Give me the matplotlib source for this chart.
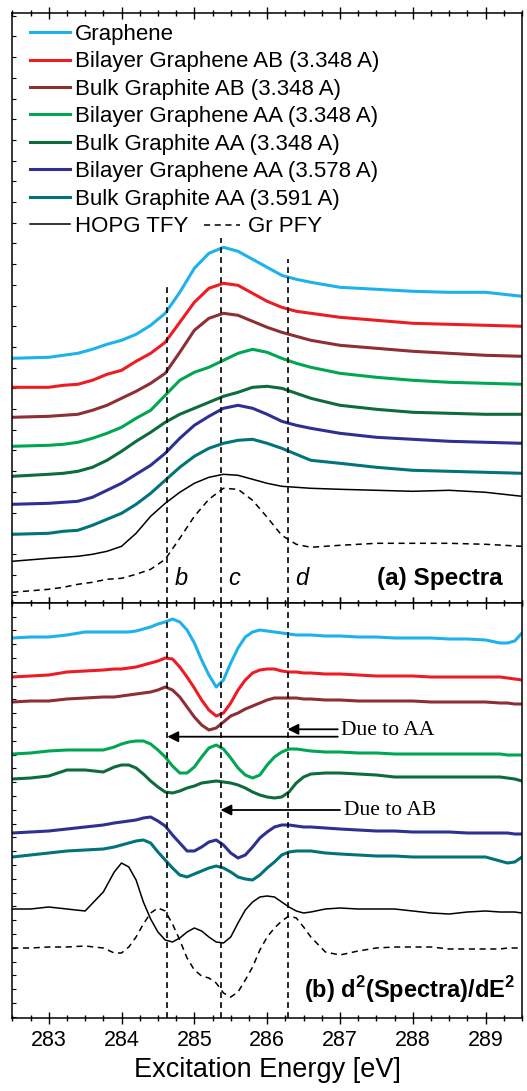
import numpy as np
import matplotlib.pyplot as plt
from matplotlib.ticker import MultipleLocator

plt.rcParams['font.family'] = ['Liberation Sans', 'DejaVu Sans']
plt.rcParams['mathtext.fontset'] = 'custom'
plt.rcParams['mathtext.rm'] = 'Liberation Sans'
plt.rcParams['mathtext.bf'] = 'Liberation Sans:bold'

# Panel (a): spectra (stacked, arbitrary units)
energia_a = [282.5, 283.0, 283.2, 283.4, 283.6, 283.8, 284.0, 284.2, 284.4, 284.6, 284.8, 285.0, 285.2,
             285.4, 285.6, 285.8, 286.0, 286.2, 286.4, 286.6, 287.0, 287.5, 288.0, 288.5, 289.0, 289.5]

graphene_a = [2.45, 2.46, 2.48, 2.50, 2.54, 2.59, 2.63, 2.69, 2.78, 2.90, 3.11, 3.35, 3.50,
              3.56, 3.52, 3.44, 3.36, 3.28, 3.24, 3.21, 3.16, 3.14, 3.12, 3.11, 3.11, 3.07]
bilayer_ab_a = [2.16, 2.16, 2.18, 2.19, 2.23, 2.29, 2.33, 2.42, 2.50, 2.61, 2.81, 3.01, 3.15,
                3.20, 3.18, 3.10, 3.02, 2.96, 2.92, 2.90, 2.86, 2.83, 2.80, 2.79, 2.78, 2.77]
bulk_ab_a = [1.86, 1.87, 1.88, 1.89, 1.93, 1.98, 2.05, 2.12, 2.20, 2.30, 2.51, 2.73, 2.85,
             2.90, 2.88, 2.82, 2.76, 2.71, 2.67, 2.63, 2.58, 2.55, 2.52, 2.50, 2.48, 2.47]
bilayer_aa_a = [1.57, 1.58, 1.59, 1.61, 1.65, 1.70, 1.76, 1.85, 1.93, 2.08, 2.23, 2.31, 2.36,
                2.43, 2.50, 2.54, 2.51, 2.45, 2.40, 2.36, 2.30, 2.26, 2.23, 2.21, 2.20, 2.19]
bulk_aa_a = [1.27, 1.29, 1.30, 1.32, 1.36, 1.43, 1.52, 1.62, 1.71, 1.81, 1.89, 1.95, 2.01,
             2.07, 2.11, 2.16, 2.17, 2.15, 2.10, 2.05, 1.98, 1.94, 1.91, 1.90, 1.89, 1.89]
bilayer_aa2_a = [0.99, 1.00, 1.01, 1.02, 1.06, 1.13, 1.20, 1.29, 1.38, 1.50, 1.65, 1.78, 1.87,
                 1.95, 1.98, 1.95, 1.89, 1.82, 1.78, 1.75, 1.70, 1.66, 1.64, 1.62, 1.61, 1.60]
bulk_aa2_a = [0.69, 0.70, 0.72, 0.73, 0.78, 0.84, 0.90, 0.99, 1.10, 1.23, 1.36, 1.47, 1.55,
              1.60, 1.63, 1.64, 1.60, 1.55, 1.49, 1.43, 1.40, 1.36, 1.33, 1.32, 1.31, 1.30]
hopg_tfy_a = [0.42, 0.45, 0.46, 0.47, 0.49, 0.52, 0.57, 0.70, 0.87, 1.00, 1.11, 1.20, 1.26,
              1.29, 1.28, 1.24, 1.20, 1.17, 1.16, 1.15, 1.14, 1.13, 1.12, 1.13, 1.11, 1.07]
gr_pfy_a = [0.11, 0.14, 0.16, 0.19, 0.21, 0.24, 0.25, 0.29, 0.34, 0.44, 0.65, 0.87, 1.04,
            1.15, 1.14, 1.03, 0.86, 0.68, 0.59, 0.56, 0.58, 0.60, 0.60, 0.60, 0.59, 0.57]

# Panel (b): second derivatives (stacked, arbitrary units)
energia_b = [282.5, 282.75, 283.0, 283.25, 283.5, 283.75, 283.9, 284.0, 284.1, 284.2, 284.3, 284.4,
             284.5, 284.6, 284.7, 284.8, 284.9, 285.0, 285.1, 285.2, 285.3, 285.4, 285.5, 285.6,
             285.7, 285.8, 285.9, 286.0, 286.1, 286.2, 286.3, 286.4, 286.5, 286.6, 286.8, 287.0,
             287.25, 287.5, 287.75, 288.0, 288.25, 288.5, 288.75, 289.0, 289.2, 289.3, 289.4, 289.5]

graphene_b = [3.82, 3.83, 3.83, 3.85, 3.88, 3.88, 3.88, 3.88, 3.88, 3.89, 3.91, 3.93,
              3.96, 3.98, 4.01, 3.98, 3.90, 3.77, 3.60, 3.45, 3.33, 3.40, 3.57, 3.72,
              3.83, 3.88, 3.90, 3.89, 3.88, 3.87, 3.86, 3.85, 3.85, 3.85, 3.84, 3.84,
              3.83, 3.83, 3.82, 3.82, 3.82, 3.81, 3.81, 3.80, 3.77, 3.77, 3.79, 3.87]
bilayer_ab_b = [3.43, 3.44, 3.45, 3.48, 3.49, 3.50, 3.51, 3.51, 3.52, 3.53, 3.55, 3.57,
                3.59, 3.62, 3.61, 3.53, 3.43, 3.32, 3.20, 3.10, 3.04, 3.07, 3.17, 3.30,
                3.40, 3.47, 3.50, 3.51, 3.51, 3.49, 3.48, 3.48, 3.47, 3.47, 3.46, 3.46,
                3.45, 3.44, 3.44, 3.44, 3.43, 3.43, 3.43, 3.43, 3.43, 3.42, 3.41, 3.40]
bulk_ab_b = [3.18, 3.19, 3.19, 3.21, 3.22, 3.23, 3.23, 3.24, 3.25, 3.26, 3.27, 3.28,
             3.30, 3.33, 3.30, 3.23, 3.13, 3.03, 2.95, 2.90, 2.92, 2.98, 3.04, 3.07,
             3.11, 3.14, 3.17, 3.20, 3.22, 3.22, 3.22, 3.22, 3.21, 3.21, 3.20, 3.20,
             3.19, 3.19, 3.19, 3.19, 3.18, 3.18, 3.18, 3.18, 3.17, 3.17, 3.16, 3.16]
bilayer_aa_b = [2.66, 2.67, 2.69, 2.70, 2.70, 2.70, 2.73, 2.76, 2.78, 2.79, 2.79, 2.76,
                2.70, 2.63, 2.54, 2.47, 2.47, 2.53, 2.63, 2.72, 2.75, 2.71, 2.62, 2.52,
                2.45, 2.42, 2.45, 2.55, 2.63, 2.68, 2.71, 2.71, 2.70, 2.69, 2.68, 2.68,
                2.67, 2.67, 2.66, 2.66, 2.66, 2.66, 2.66, 2.66, 2.66, 2.65, 2.65, 2.65]
bulk_aa_b = [2.41, 2.42, 2.44, 2.50, 2.50, 2.48, 2.53, 2.55, 2.55, 2.52, 2.46, 2.39,
             2.33, 2.28, 2.27, 2.29, 2.32, 2.34, 2.37, 2.38, 2.39, 2.38, 2.37, 2.35,
             2.32, 2.28, 2.25, 2.23, 2.22, 2.23, 2.28, 2.37, 2.43, 2.46, 2.47, 2.47,
             2.46, 2.45, 2.43, 2.43, 2.43, 2.43, 2.43, 2.43, 2.43, 2.42, 2.41, 2.39]
bilayer_aa2_b = [1.87, 1.88, 1.89, 1.91, 1.93, 1.95, 1.97, 1.98, 1.99, 2.00, 2.02, 2.03,
                 1.99, 1.94, 1.85, 1.77, 1.69, 1.69, 1.73, 1.78, 1.80, 1.75, 1.67, 1.62,
                 1.65, 1.73, 1.82, 1.88, 1.93, 1.95, 1.95, 1.94, 1.93, 1.93, 1.92, 1.91,
                 1.90, 1.89, 1.89, 1.88, 1.88, 1.88, 1.87, 1.87, 1.87, 1.87, 1.86, 1.86]
bulk_aa2_b = [1.63, 1.65, 1.67, 1.69, 1.70, 1.71, 1.73, 1.75, 1.77, 1.79, 1.80, 1.77,
              1.68, 1.60, 1.52, 1.45, 1.43, 1.46, 1.49, 1.52, 1.54, 1.52, 1.48, 1.43,
              1.41, 1.40, 1.45, 1.52, 1.58, 1.65, 1.68, 1.69, 1.69, 1.69, 1.67, 1.66,
              1.65, 1.64, 1.64, 1.63, 1.63, 1.63, 1.63, 1.63, 1.59, 1.57, 1.58, 1.63]
hopg_tfy_b = [1.11, 1.11, 1.13, 1.11, 1.09, 1.28, 1.48, 1.57, 1.53, 1.40, 1.18, 1.01,
              0.88, 0.80, 0.78, 0.82, 0.88, 0.92, 0.89, 0.83, 0.78, 0.77, 0.83, 0.97,
              1.10, 1.18, 1.23, 1.24, 1.23, 1.18, 1.13, 1.09, 1.07, 1.08, 1.11, 1.12,
              1.11, 1.11, 1.11, 1.09, 1.07, 1.06, 1.08, 1.09, 1.08, 1.08, 1.08, 1.07]
gr_pfy_b = [0.72, 0.72, 0.73, 0.73, 0.74, 0.72, 0.67, 0.67, 0.73, 0.83, 0.96, 1.07,
            1.12, 1.09, 0.96, 0.80, 0.62, 0.50, 0.44, 0.42, 0.37, 0.27, 0.23, 0.28,
            0.40, 0.53, 0.70, 0.83, 0.92, 0.99, 1.04, 1.02, 0.93, 0.83, 0.68, 0.65,
            0.69, 0.72, 0.73, 0.73, 0.73, 0.71, 0.71, 0.71, 0.71, 0.72, 0.72, 0.72]

etiquetas = ['Graphene', 'Bilayer Graphene AB (3.348 A)', 'Bulk Graphite AB (3.348 A)',
             'Bilayer Graphene AA (3.348 A)', 'Bulk Graphite AA (3.348 A)',
             'Bilayer Graphene AA (3.578 A)', 'Bulk Graphite AA (3.591 A)']
colores = ['#1db2ea', '#ed1c24', '#8e2f35', '#00a651', '#0e6b3e', '#2e3092', '#00747a']

# feature lines b, c, d (eV) and where they start in panel (a)
marcas = [284.63, 285.36, 286.28]
nombres_marcas = ['b', 'c', 'd']
tope_marcas_a = [3.19, 3.65, 3.44]

series_a = [graphene_a, bilayer_ab_a, bulk_ab_a, bilayer_aa_a, bulk_aa_a, bilayer_aa2_a, bulk_aa2_a]
series_b = [graphene_b, bilayer_ab_b, bulk_ab_b, bilayer_aa_b, bulk_aa_b, bilayer_aa2_b, bulk_aa2_b]

fig = plt.figure(figsize=(5.27, 10.91), dpi=100)
izq, ancho = 12.3 / 527, 509.7 / 527
ax_a = fig.add_axes([izq, (1091 - 603.3) / 1091, ancho, 590 / 1091])
ax_b = fig.add_axes([izq, (1091 - 1018.3) / 1091, ancho, 415 / 1091])

dash = (0, (3.5, 2.5))

# Panel (a)
lineas = []
for y, c, lab in zip(series_a, colores, etiquetas):
    lineas.append(ax_a.plot(energia_a, y, color=c, lw=2.2, label=lab)[0])
lineas.append(ax_a.plot(energia_a, hopg_tfy_a, color='black', lw=1.1, label='HOPG TFY')[0])
l_pfy = ax_a.plot(energia_a, gr_pfy_a, color='black', lw=1.1, ls=(0, (4, 3)), label='Gr PFY')[0]

for e, top in zip(marcas, tope_marcas_a):
    ax_a.plot([e, e], [0, top], color='black', lw=1.2, ls=dash)
for e, n in zip(marcas, nombres_marcas):
    ax_a.text(e + 0.1, 0.25, n, fontsize=17, style='italic', ha='left', va='center')
ax_a.text(289.24, 0.25, '(a) Spectra', fontsize=17.5, fontweight='bold', ha='right', va='center')

leg1 = ax_a.legend(handles=lineas, loc='upper left', bbox_to_anchor=(0.0347, 0.982),
                   frameon=False, fontsize=16, handlelength=1.8, handletextpad=0.22,
                   labelspacing=0.29, borderpad=0, borderaxespad=0)
ax_a.add_artist(leg1)
ax_a.legend(handles=[l_pfy], loc='center left', bbox_to_anchor=(0.376, 0.638),
            frameon=False, fontsize=16, handlelength=1.62, handletextpad=0.36,
            borderpad=0, borderaxespad=0)

ax_a.set_ylim(0, 5.9)
ax_a.set_yticks(np.arange(0.08, 5.9, 0.207))

# Panel (b)
for y, c in zip(series_b, colores):
    ax_b.plot(energia_b, y, color=c, lw=2.2)
ax_b.plot(energia_b, hopg_tfy_b, color='black', lw=1.1)
ax_b.plot(energia_b, gr_pfy_b, color='black', lw=1.1, ls=(0, (4, 3)))

for e in marcas:
    ax_b.axvline(e, color='black', lw=1.2, ls=dash)

flecha = dict(arrowstyle='-|>', color='black', lw=1.3, mutation_scale=16, shrinkA=0, shrinkB=0)
ax_b.annotate('', xy=(marcas[2], 2.907), xytext=(286.97, 2.907), arrowprops=flecha)
ax_b.annotate('', xy=(marcas[0], 2.833), xytext=(286.97, 2.833), arrowprops=flecha)
ax_b.annotate('', xy=(marcas[1], 2.10), xytext=(287.0, 2.10), arrowprops=flecha)
ax_b.text(287.02, 2.89, 'Due to AA', family='Liberation Serif', fontsize=15.5, ha='left', va='center')
ax_b.text(287.06, 2.09, 'Due to AB', family='Liberation Serif', fontsize=15.5, ha='left', va='center')
ax_b.text(289.41, 0.30, r'(b) d$^\mathbf{2}$(Spectra)/dE$^\mathbf{2}$', fontsize=17,
          fontweight='bold', ha='right', va='center')

ax_b.set_ylim(0.017, 4.167)
ax_b.set_yticks(np.arange(4.033, 0.02, -0.138))
ax_b.set_xlabel('Excitation Energy [eV]', fontsize=19.5, labelpad=4)

# common axis styling
for ax in (ax_a, ax_b):
    ax.set_xlim(282.5, 289.5)
    ax.xaxis.set_major_locator(MultipleLocator(1))
    ax.xaxis.set_minor_locator(MultipleLocator(0.25))
    ax.tick_params(axis='x', which='both', direction='inout', top=True, bottom=True, width=1)
    ax.tick_params(axis='x', which='major', length=9)
    ax.tick_params(axis='x', which='minor', length=5)
    ax.tick_params(axis='y', direction='in', length=3, width=0.8, left=True, right=False, labelleft=False)
    for s in ax.spines.values():
        s.set_linewidth(1.1)

ax_a.tick_params(axis='x', labelbottom=False)
ax_b.tick_params(axis='x', labelsize=15.5, pad=4)

plt.savefig('out.png', dpi=100)
